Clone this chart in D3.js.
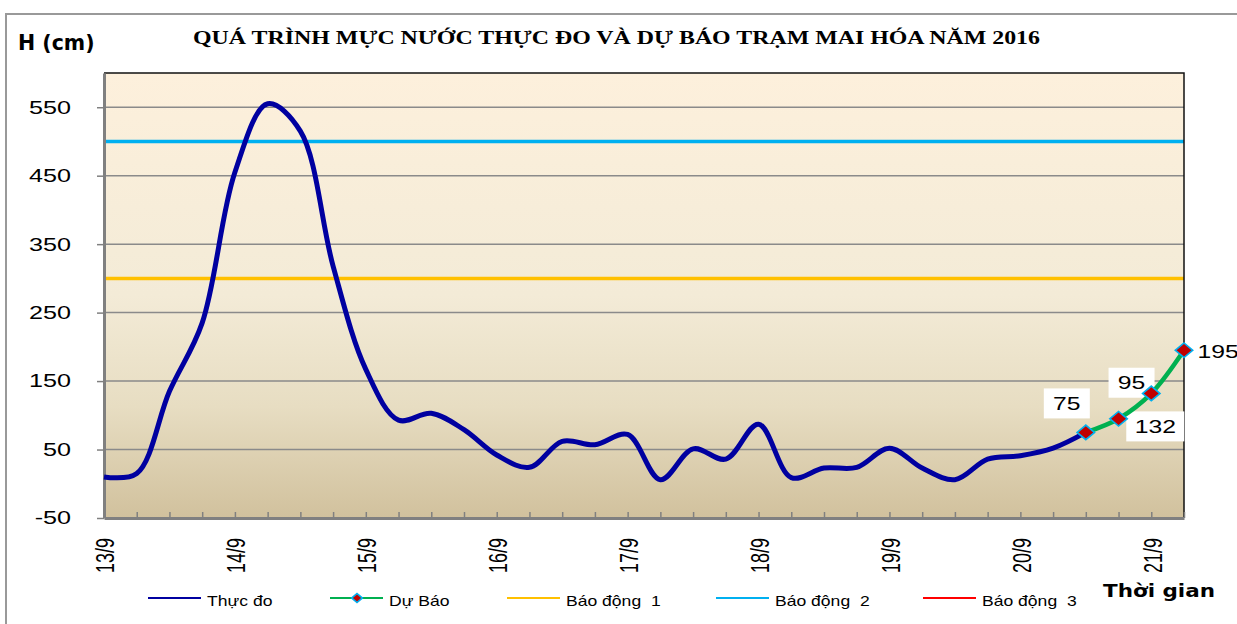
<!DOCTYPE html>
<html lang="vi">
<head>
<meta charset="utf-8">
<title>Mai Hoa 2016</title>
<script src="https://d3js.org/d3.v7.min.js"></script>
<style>
body { margin: 0; background: #fff; }
svg text { fill: #000; }
</style>
</head>
<body>
<div id="chart"></div>
<script>
// categories: 6-hourly observations
var days = ["13/9", "14/9", "15/9", "16/9", "17/9", "18/9", "19/9", "20/9", "21/9"];
var hours = ["1h", "7h", "13h", "19h"];
var times = [];
days.forEach(function (d) { hours.forEach(function (h) { times.push(d + " " + h); }); });
times = times.slice(0, 34);

// water level (cm)
var thucDo = [10, 15, 135, 235, 455, 555, 515, 318, 167, 93, 103, 79, 42, 24, 62, 57, 72, 6,
              51, 36, 87, 9, 23, 24, 52, 23, 6, 36, 41, 52, 75];
var duBao = [75, 95, 132, 195];
var duBaoTimes = times.slice(30);

var baoDong = [300, 500, 650];
var baoDongNames = ["Báo động  1", "Báo động  2", "Báo động  3"];
var baoDongColors = ["#ffc000", "#00b0f0", "#ff0000"];

var yTicks = [-50, 50, 150, 250, 350, 450, 550];

var W = 1237, H = 624;
var pLeft = 104, pRight = 1184, pTop = 73, pBottom = 518;
var SANS = "'Liberation Sans', Arial, sans-serif";

var svg = d3.select("#chart").append("svg")
    .attr("width", W)
    .attr("height", H)
    .style("font-family", SANS);

// stretch text horizontally like the original picture
function stretch(sel, k) {
  sel.each(function () {
    var w = this.getComputedTextLength();
    d3.select(this).attr("textLength", w * k).attr("lengthAdjust", "spacingAndGlyphs");
  });
}

// outer frame
svg.append("rect")
    .attr("x", 6).attr("y", 14)
    .attr("width", W + 20).attr("height", H + 20)
    .attr("fill", "#fff")
    .attr("stroke", "#999").attr("stroke-width", 2);

var x = d3.scalePoint().domain(times).range([pLeft, pRight]);
var y = d3.scaleLinear().domain([-50, 600]).range([pBottom, pTop]);

// plot background gradient
var defs = svg.append("defs");
var grad = defs.append("linearGradient")
    .attr("id", "bg").attr("x1", 0).attr("y1", 0).attr("x2", 0).attr("y2", 1);
grad.append("stop").attr("offset", "0%").attr("stop-color", "#fdf0dc");
grad.append("stop").attr("offset", "50%").attr("stop-color", "#f3ebd7");
grad.append("stop").attr("offset", "75%").attr("stop-color", "#e7ddc2");
grad.append("stop").attr("offset", "100%").attr("stop-color", "#d1c19d");

defs.append("clipPath").attr("id", "clip")
  .append("rect").attr("x", pLeft).attr("y", pTop)
    .attr("width", pRight - pLeft).attr("height", pBottom - pTop);

svg.append("rect")
    .attr("x", pLeft).attr("y", pTop)
    .attr("width", pRight - pLeft).attr("height", pBottom - pTop)
    .attr("fill", "url(#bg)");

// grid lines
svg.append("g").selectAll("line")
    .data(yTicks.slice(1))
    .enter().append("line")
    .attr("x1", pLeft).attr("x2", pRight)
    .attr("y1", function (d) { return y(d); })
    .attr("y2", function (d) { return y(d); })
    .attr("stroke", "#8a8a8a").attr("stroke-width", 1.5);

// alarm levels
svg.append("g").attr("clip-path", "url(#clip)").selectAll("line")
    .data(baoDong)
    .enter().append("line")
    .attr("x1", pLeft).attr("x2", pRight)
    .attr("y1", function (d) { return y(d); })
    .attr("y2", function (d) { return y(d); })
    .attr("stroke", function (d, i) { return baoDongColors[i]; })
    .attr("stroke-width", 3.5);

// border top / right
svg.append("path")
    .attr("d", "M" + pLeft + "," + pTop + "H" + pRight + "V" + pBottom)
    .attr("fill", "none").attr("stroke", "#111").attr("stroke-width", 1.5);

// axes
var xAxis = svg.append("g")
    .attr("transform", "translate(0," + pBottom + ")")
    .call(d3.axisBottom(x).tickSize(-6).tickSizeOuter(0)
      .tickFormat(function (d, i) { return i % 4 === 0 ? d.split(" ")[0] : ""; }));
xAxis.select(".domain").attr("stroke", "#808080").attr("stroke-width", 3);
xAxis.selectAll(".tick line").attr("stroke", "#808080").attr("stroke-width", 1.5);
xAxis.selectAll(".tick text")
    .attr("x", 0).attr("y", 0).attr("dy", "0.35em")
    .attr("text-anchor", "end")
    .attr("fill", "#000")
    .style("font-size", "18px")
    .style("font-family", SANS)
    .attr("transform", "translate(1,20) scale(1.4,1) rotate(-90)");

var yAxis = svg.append("g")
    .attr("transform", "translate(" + pLeft + ",0)")
    .call(d3.axisLeft(y).tickValues(yTicks).tickSize(7).tickSizeOuter(0).tickPadding(26)
      .tickFormat(function (d) { return String(d); }));
yAxis.select(".domain").attr("stroke", "#808080").attr("stroke-width", 3);
yAxis.selectAll(".tick line").attr("stroke", "#808080").attr("stroke-width", 1.5);
yAxis.selectAll(".tick text")
    .attr("fill", "#000")
    .style("font-size", "18.5px")
    .style("font-family", SANS)
    .call(stretch, 1.36);

var fc = duBao.map(function (v, i) { return [duBaoTimes[i], v]; });

// data labels (under the lines, as in the original)
var labelOffsets = [[-19, -29], [13, -36], [4, 33], [34, 1]];
var lab = svg.append("g").selectAll("g")
    .data(fc)
    .enter().append("g")
    .attr("transform", function (d, i) {
      return "translate(" + (x(d[0]) + labelOffsets[i][0]) + "," + (y(d[1]) + labelOffsets[i][1]) + ")";
    });
lab.append("rect")
    .attr("x", function (d) { return d[1] > 99 ? -29 : -23; })
    .attr("y", -15)
    .attr("width", function (d) { return d[1] > 99 ? 58 : 46; })
    .attr("height", 30)
    .attr("fill", "#fff");
lab.append("text")
    .attr("text-anchor", "middle")
    .attr("dy", "0.35em")
    .style("font-size", "19px")
    .text(function (d) { return d[1]; })
    .call(stretch, 1.3);

// measured line
var line = d3.line()
    .x(function (d) { return x(d[0]); })
    .y(function (d) { return y(d[1]); })
    .curve(d3.curveCatmullRom.alpha(0.5));

svg.append("path")
    .datum(thucDo.map(function (v, i) { return [times[i], v]; }))
    .attr("d", line)
    .attr("fill", "none")
    .attr("stroke", "#0000a0")
    .attr("stroke-width", 5)
    .attr("stroke-linejoin", "round");

// forecast line
svg.append("path")
    .datum(fc)
    .attr("d", line)
    .attr("fill", "none")
    .attr("stroke", "#00b050")
    .attr("stroke-width", 4.5);

var diamond = d3.symbol().type(d3.symbolSquare).size(105);
svg.append("g").selectAll("path")
    .data(fc)
    .enter().append("path")
    .attr("d", diamond)
    .attr("transform", function (d) {
      return "translate(" + x(d[0]) + "," + y(d[1]) + ") scale(1.2,1) rotate(45)";
    })
    .attr("fill", "#c00000")
    .attr("stroke", "#00b0f0")
    .attr("stroke-width", 1.5);

// title
svg.append("text")
    .attr("x", 193).attr("y", 44)
    .style("font-family", "'Liberation Serif', 'Times New Roman', serif")
    .style("font-weight", "bold")
    .style("font-size", "18px")
    .attr("textLength", 847)
    .attr("lengthAdjust", "spacingAndGlyphs")
    .text("QUÁ TRÌNH MỰC NƯỚC THỰC ĐO VÀ DỰ BÁO TRẠM MAI HÓA  NĂM 2016");

svg.append("text")
    .attr("x", 18).attr("y", 50)
    .style("font-family", "'DejaVu Sans', Verdana, sans-serif")
    .style("font-weight", "bold")
    .style("font-size", "20.5px")
    .text("H (cm)");

svg.append("text")
    .attr("x", 1103).attr("y", 597)
    .style("font-family", "'DejaVu Sans', Verdana, sans-serif")
    .style("font-weight", "bold")
    .style("font-size", "18px")
    .attr("textLength", 112)
    .attr("lengthAdjust", "spacingAndGlyphs")
    .text("Thời gian");

// legend
var legendItems = [
  { name: "Thực đo", color: "#0000a0", x: 148, marker: false },
  { name: "Dự Báo", color: "#00b050", x: 330, marker: true },
  { name: baoDongNames[0], color: baoDongColors[0], x: 507, marker: false },
  { name: baoDongNames[1], color: baoDongColors[1], x: 716, marker: false },
  { name: baoDongNames[2], color: baoDongColors[2], x: 923, marker: false }
];
var leg = svg.append("g").selectAll("g")
    .data(legendItems)
    .enter().append("g")
    .attr("transform", function (d) { return "translate(" + d.x + ",598)"; });
leg.append("line")
    .attr("x1", 0).attr("x2", 53)
    .attr("stroke", function (d) { return d.color; })
    .attr("stroke-width", 2);
leg.filter(function (d) { return d.marker; }).append("path")
    .attr("d", d3.symbol().type(d3.symbolSquare).size(40))
    .attr("transform", "translate(27,0) scale(1.2,1) rotate(45)")
    .attr("fill", "#c00000")
    .attr("stroke", "#00b0f0")
    .attr("stroke-width", 1.5);
leg.append("text")
    .attr("x", 59).attr("y", 8)
    .style("font-size", "15px")
    .style("white-space", "pre")
    .text(function (d) { return d.name; })
    .call(stretch, 1.17);
</script>
</body>
</html>
